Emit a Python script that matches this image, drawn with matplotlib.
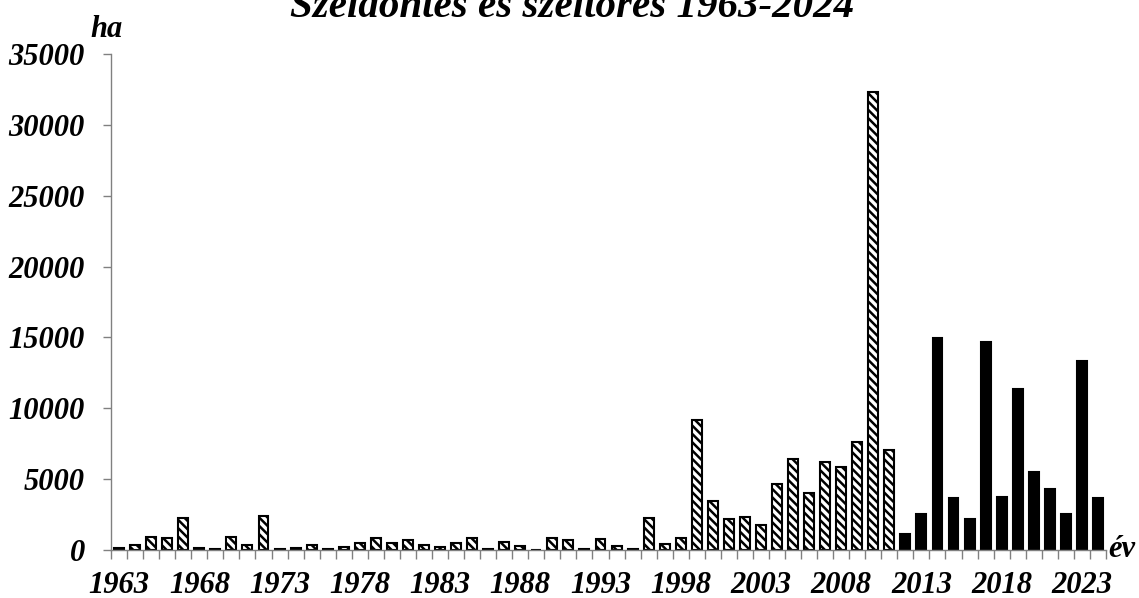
import matplotlib
matplotlib.use('agg')
import matplotlib.pyplot as plt
import numpy as np

# damaged area (ha) per year
years_old = list(range(1963, 2012))
area_old = [150, 330, 900, 850, 2230, 150, 100, 950, 330, 2420,
            100, 150, 330, 100, 230, 520, 820, 520, 680, 330,
            230, 520, 870, 100, 560, 300, 0, 870, 680, 100,
            750, 300, 100, 2280, 400, 870, 9170, 3460, 2160, 2330,
            1760, 4660, 6400, 4000, 6190, 5830, 7640, 32300, 7030]
years_new = list(range(2012, 2025))
area_new = [1150, 2520, 14980, 3690, 2160, 14650, 3740, 11340, 5500,
            4280, 2520, 13310, 3650]

years = years_old + years_new
label_years = list(range(1963, 2025, 5))

plt.rcParams['font.family'] = 'Liberation Serif'
plt.rcParams['font.weight'] = 'bold'
plt.rcParams['font.style'] = 'italic'
plt.rcParams['hatch.linewidth'] = 1.8

fig = plt.figure(figsize=(11.39, 5.98), dpi=100)
ax = fig.add_axes([0.0975, 0.0803, 0.8735, 0.8294])

pos_old = [years.index(y) for y in years_old]
pos_new = [years.index(y) for y in years_new]

ax.bar(pos_old, area_old, width=0.62, color='white', edgecolor='black',
       linewidth=1.5, hatch='\\\\\\\\')
ax.bar(pos_new, area_new, width=0.62, color='black', edgecolor='black',
       linewidth=1.5)

ax.set_xlim(-0.5, len(years) - 0.5)
ax.set_ylim(0, 35000)
ax.set_yticks(np.arange(0, 35001, 5000))

# year labels every 5 years, separator ticks between the bars
ax.set_xticks([years.index(y) for y in label_years])
ax.set_xticklabels([str(y) for y in label_years])
ax.set_xticks(np.arange(-0.5, len(years), 1), minor=True)
ax.tick_params(axis='x', which='major', length=0, pad=15, labelsize=22)
ax.tick_params(axis='x', which='minor', length=6.5, width=1, color='#808080',
               direction='out')
ax.tick_params(axis='y', length=5.8, width=1, color='#808080', pad=13,
               labelsize=22)

for side in ['top', 'right']:
    ax.spines[side].set_visible(False)
for side in ['left', 'bottom']:
    ax.spines[side].set_color('#808080')
    ax.spines[side].set_linewidth(1)

ax.annotate('ha', xy=(0, 1), xycoords='axes fraction', xytext=(-21, 17),
            textcoords='offset pixels', fontsize=22, ha='left', va='baseline')
ax.annotate('év', xy=(1, 0), xycoords='axes fraction', xytext=(2, 0),
            textcoords='offset pixels', fontsize=22, ha='left', va='center')

fig.text(0.502, 1 - 17 / 598, 'Széldöntés és széltörés 1963-2024',
         fontsize=29.5, ha='center', va='baseline')

fig.savefig('out.png', dpi=100)
